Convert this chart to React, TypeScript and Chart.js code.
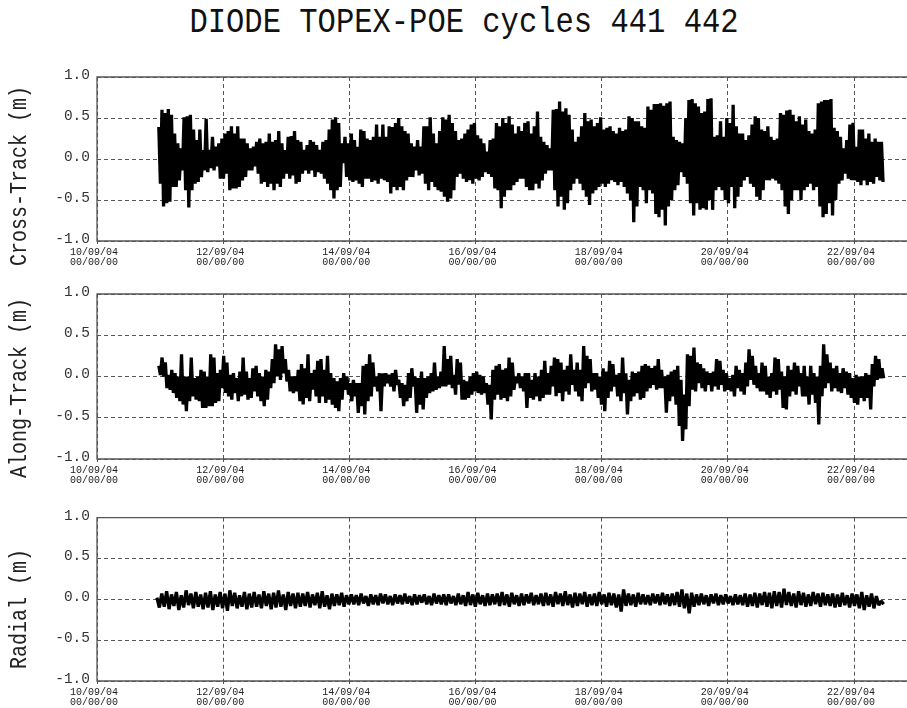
import React, { useEffect, useRef } from 'react';
import { Chart, registerables } from 'chart.js';

Chart.register(...registerables);

const TITLE = 'DIODE TOPEX-POE cycles 441 442';
const PANEL_TITLES = ['Cross-Track (m)', 'Along-Track (m)', 'Radial (m)'];
const DATE_LABELS = ['10/09/04', '12/09/04', '14/09/04', '16/09/04', '18/09/04', '20/09/04', '22/09/04'];
const TIME_LABEL = '00/00/00';

// x axis in days of September 2004
const X_MIN = 10;
const X_MAX = 22.84;
const X_STEP = 2;
const Y_MIN = -1;
const Y_MAX = 1;
const Y_STEP = 0.5;

// sample windows (day of September 2004)
const CROSS_WINDOW = [10.98, 22.46];
const ALONG_WINDOW = [10.98, 22.47];
const RADIAL_WINDOW = [10.95, 22.47];

// alternating extremes (m)
const CROSS_TRACK = [
  0.39, -0.30, 0.60, -0.58, 0.56, -0.54, 0.61, -0.52, 0.54, -0.34, 0.31, -0.34, 0.19, -0.26, 0.13, -0.14, 0.51, -0.38, 0.52, -0.59,
  0.54, -0.38, 0.36, -0.30, 0.23, -0.28, 0.36, -0.22, 0.11, -0.14, 0.49, -0.16, 0.11, -0.11, 0.27, -0.14, 0.15, -0.09, 0.19, -0.24,
  0.25, -0.24, 0.31, -0.18, 0.34, -0.38, 0.40, -0.36, 0.31, -0.36, 0.40, -0.34, 0.25, -0.26, 0.25, -0.22, 0.19, -0.14, 0.13, -0.14,
  0.15, -0.09, 0.21, -0.18, 0.25, -0.30, 0.19, -0.28, 0.21, -0.34, 0.31, -0.30, 0.21, -0.38, 0.23, -0.30, 0.34, -0.34, 0.19, -0.24,
  0.11, -0.18, 0.27, -0.24, 0.28, -0.20, 0.34, -0.30, 0.23, -0.28, 0.21, -0.18, 0.11, -0.14, 0.17, -0.18, 0.23, -0.14, 0.21, -0.22,
  0.17, -0.16, 0.11, -0.18, 0.21, -0.24, 0.23, -0.30, 0.36, -0.38, 0.48, -0.48, 0.51, -0.38, 0.44, -0.34, 0.19, -0.05, 0.27, -0.22,
  0.19, -0.26, 0.31, -0.28, 0.23, -0.26, 0.15, -0.30, 0.36, -0.34, 0.34, -0.24, 0.25, -0.24, 0.23, -0.28, 0.27, -0.26, 0.42, -0.30,
  0.27, -0.24, 0.42, -0.26, 0.27, -0.28, 0.40, -0.42,
  0.39, -0.34, 0.44, -0.38, 0.50, -0.34, 0.40, -0.38, 0.34, -0.26, 0.31, -0.22, 0.19, -0.22, 0.15, -0.14, 0.23, -0.20, 0.15, -0.18,
  0.40, -0.30, 0.40, -0.38, 0.51, -0.28, 0.31, -0.34, 0.19, -0.38, 0.34, -0.40, 0.51, -0.46, 0.48, -0.52, 0.54, -0.48, 0.44, -0.38,
  0.34, -0.22, 0.23, -0.18, 0.25, -0.24, 0.31, -0.28, 0.36, -0.26, 0.42, -0.30, 0.44, -0.24, 0.29, -0.26, 0.25, -0.22, 0.19, -0.16,
  0.09, -0.18, 0.23, -0.22, 0.25, -0.36, 0.44, -0.38, 0.40, -0.60, 0.50, -0.46, 0.44, -0.38, 0.52, -0.38, 0.42, -0.32, 0.31, -0.28,
  0.40, -0.24, 0.34, -0.24, 0.44, -0.34, 0.46, -0.38, 0.31, -0.38, 0.40, -0.30, 0.58, -0.36, 0.27, -0.26, 0.21, -0.18, 0.17, -0.14,
  0.13, -0.14, 0.60, -0.38, 0.61, -0.58, 0.70, -0.46, 0.58, -0.62, 0.62, -0.54, 0.54, -0.38, 0.36, -0.30, 0.21, -0.24, 0.27, -0.30,
  0.40, -0.38, 0.56, -0.46, 0.46, -0.56, 0.48, -0.42, 0.40, -0.38, 0.44, -0.34, 0.51, -0.30, 0.36, -0.34, 0.38, -0.30, 0.40, -0.26,
  0.34, -0.28, 0.31, -0.32, 0.38, -0.28, 0.34, -0.34, 0.36, -0.42, 0.52, -0.50,
  0.50, -0.77, 0.46, -0.58, 0.46, -0.34, 0.40, -0.38, 0.38, -0.54, 0.64, -0.38, 0.60, -0.42, 0.67, -0.67, 0.67, -0.71, 0.68, -0.62,
  0.65, -0.81, 0.68, -0.58, 0.70, -0.50, 0.27, -0.38, 0.23, -0.32, 0.21, -0.16, 0.19, -0.22, 0.50, -0.30, 0.72, -0.54, 0.73, -0.69,
  0.68, -0.54, 0.64, -0.62, 0.56, -0.60, 0.58, -0.62, 0.73, -0.50, 0.74, -0.62, 0.27, -0.38, 0.29, -0.34, 0.46, -0.38, 0.27, -0.50,
  0.50, -0.54, 0.44, -0.34, 0.66, -0.60, 0.40, -0.46, 0.31, -0.34, 0.31, -0.26, 0.23, -0.22, 0.29, -0.30, 0.42, -0.34, 0.52, -0.46,
  0.50, -0.50, 0.36, -0.38, 0.34, -0.26, 0.40, -0.26, 0.27, -0.24, 0.23, -0.26, 0.25, -0.30, 0.56, -0.38, 0.54, -0.58, 0.59, -0.67,
  0.60, -0.50, 0.54, -0.38, 0.46, -0.38, 0.52, -0.50, 0.42, -0.38, 0.48, -0.34, 0.34, -0.30, 0.31, -0.38, 0.36, -0.34, 0.68, -0.58,
  0.70, -0.71, 0.72, -0.67, 0.72, -0.54, 0.73, -0.69, 0.38, -0.50, 0.34, -0.30, 0.27, -0.26, 0.13, -0.18, 0.23, -0.24, 0.42, -0.26,
  0.44, -0.26, 0.15, -0.28, 0.36, -0.32, 0.36, -0.26, 0.25, -0.32, 0.31, -0.28, 0.21, -0.30, 0.25, -0.22, 0.21, -0.26, 0.21, -0.28,
];

const ALONG_TRACK = [
  0.13, 0.02, 0.23, 0.00, 0.17, -0.14, 0.02, -0.16, 0.08, -0.20, 0.04, -0.26, 0.00, -0.30, 0.27, -0.34, 0.00, -0.42, 0.00, -0.30,
  0.23, -0.24, -0.02, -0.28, 0.00, -0.30, 0.08, -0.38, 0.06, -0.38, 0.00, -0.36, 0.27, -0.36, 0.23, -0.32, 0.04, -0.30, 0.08, -0.14,
  0.25, -0.20, 0.17, -0.24, 0.02, -0.28, 0.04, -0.20, -0.02, -0.30, 0.06, -0.24, 0.23, -0.22, 0.06, -0.28, -0.02, -0.26, 0.10, -0.18,
  0.13, -0.24, 0.04, -0.30, 0.00, -0.36, 0.08, -0.28, 0.06, -0.14, 0.21, -0.08, 0.39, 0.00, 0.33, -0.04, 0.37, 0.04, 0.21, -0.06,
  0.08, -0.18, 0.00, -0.20, 0.00, -0.18, 0.08, -0.30, 0.15, -0.34, 0.10, -0.26, 0.27, -0.30, 0.04, -0.16, 0.08, -0.24, 0.19, -0.32,
  0.21, -0.24, 0.08, -0.32, 0.25, -0.28, 0.04, -0.34, -0.02, -0.38, -0.06, -0.42, -0.02, -0.28, 0.04, -0.16, 0.00, -0.22, -0.08, -0.30,
  -0.04, -0.24, -0.08, -0.44, -0.08, -0.36, 0.13, -0.46, 0.15, -0.30, 0.27, -0.24, 0.17, -0.12, 0.00, -0.18, 0.04, -0.42, 0.04, -0.12,
  0.04, -0.08, 0.02, -0.12, 0.04, -0.18,
  0.08, -0.10, -0.04, -0.26, -0.08, -0.36, -0.10, -0.30, 0.04, -0.26, 0.10, -0.12, 0.00, -0.44, -0.02, -0.34, 0.06, -0.40, -0.02, -0.26,
  0.00, -0.20, 0.04, -0.18, 0.17, -0.16, 0.00, -0.14, 0.06, -0.12, 0.37, -0.12, 0.21, -0.10, 0.25, -0.14, 0.02, -0.22, 0.21, -0.10,
  0.17, -0.28, -0.04, -0.28, -0.06, -0.26, 0.00, -0.22, 0.04, -0.18, 0.06, -0.20, 0.02, -0.22, 0.00, -0.20, -0.08, -0.34, -0.10, -0.52,
  0.08, -0.28, 0.13, -0.22, 0.15, -0.28, 0.08, -0.26, 0.10, -0.30, 0.23, -0.24, 0.17, -0.16, 0.00, -0.08, 0.04, -0.14, 0.00, -0.18,
  0.04, -0.38, 0.04, -0.26, -0.04, -0.28, 0.04, -0.24, 0.00, -0.30, 0.08, -0.26, 0.19, -0.22, 0.04, -0.22, 0.13, -0.12, 0.23, -0.24,
  0.21, -0.20, 0.17, -0.30, 0.08, -0.18, 0.13, -0.22, 0.27, -0.10, 0.08, -0.18, 0.17, -0.24, 0.08, -0.30, 0.37, -0.14, 0.25, -0.08,
  0.21, -0.18, 0.04, -0.16, 0.04, -0.26, 0.00, -0.34, 0.10, -0.42, 0.06, -0.26, 0.19, -0.18, 0.15, -0.12, 0.02, -0.24, 0.04, -0.30,
  0.23, -0.20, 0.04, -0.46, -0.04, -0.30, 0.06, -0.24, 0.04, -0.20,
  0.06, -0.28, 0.13, -0.26, 0.15, -0.18, 0.13, -0.14, 0.10, -0.10, 0.13, -0.16, 0.21, -0.14, 0.08, -0.14, 0.00, -0.44, 0.02, -0.30,
  0.06, -0.24, 0.08, -0.34, 0.13, -0.60, -0.04, -0.78, -0.22, -0.64, 0.27, -0.36, 0.25, -0.16, 0.35, -0.18, 0.17, -0.08, 0.15, -0.14,
  0.10, -0.18, 0.06, -0.10, 0.04, -0.18, 0.06, -0.12, 0.21, -0.16, 0.19, -0.10, 0.08, -0.18, 0.04, -0.16, -0.02, -0.18, 0.02, -0.24,
  0.13, -0.14, 0.08, -0.18, 0.04, -0.22, 0.17, -0.12, 0.33, -0.04, 0.25, -0.10, 0.13, -0.14, 0.04, -0.18, 0.17, -0.18, 0.13, -0.22,
  0.00, -0.26, 0.04, -0.18, 0.23, -0.22, 0.21, -0.16, 0.06, -0.38, 0.00, -0.40, 0.13, -0.24, 0.08, -0.18, 0.17, -0.22, 0.13, -0.12,
  0.04, -0.24, 0.13, -0.24, 0.00, -0.34, 0.13, -0.22, 0.04, -0.32, 0.00, -0.58, 0.13, -0.24, 0.39, -0.14, 0.27, -0.08, 0.17, -0.18,
  0.10, -0.14, 0.13, -0.18, 0.04, -0.20, 0.10, -0.14, 0.06, -0.22, 0.04, -0.26, -0.02, -0.32, 0.02, -0.34, 0.00, -0.26, 0.00, -0.30,
  0.04, -0.26, 0.02, -0.40, 0.15, -0.12, 0.25, -0.04, 0.21, -0.02, 0.10, -0.02,
];

const RADIAL = [
  0.02, -0.10, 0.07, -0.09, 0.10, -0.12, 0.06, -0.08, 0.09, -0.13, 0.05, -0.10, 0.11, -0.07, 0.07, -0.11, 0.09, -0.09, 0.06, -0.12,
  0.08, -0.10, 0.10, -0.13, 0.06, -0.09, 0.09, -0.11, 0.07, -0.14, 0.11, -0.08, 0.08, -0.11, 0.05, -0.09, 0.09, -0.12, 0.07, -0.10,
  0.09, -0.09, 0.06, -0.11, 0.10, -0.08, 0.07, -0.12, 0.08, -0.10, 0.11, -0.09, 0.06, -0.13, 0.09, -0.08, 0.07, -0.11, 0.08, -0.09,
  0.07, -0.08, 0.09, -0.10, 0.06, -0.07, 0.08, -0.11, 0.10, -0.09, 0.05, -0.12, 0.07, -0.08, 0.06, -0.07, 0.08, -0.09, 0.05, -0.06,
  0.06, -0.06, 0.05, -0.07, 0.07, -0.05, 0.04, -0.08, 0.06, -0.06, 0.05, -0.07, 0.07, -0.05, 0.06, -0.06, 0.04, -0.07, 0.06, -0.05,
  0.05, -0.06, 0.07, -0.05, 0.04, -0.07, 0.06, -0.06, 0.05, -0.04, 0.06, -0.06, 0.04, -0.07, 0.07, -0.05, 0.05, -0.06, 0.06, -0.07,
  0.06, -0.05, 0.04, -0.07, 0.07, -0.06, 0.05, -0.08, 0.09, -0.07, 0.06, -0.09, 0.08, -0.06, 0.05, -0.08, 0.07, -0.07, 0.06, -0.06,
  0.07, -0.08, 0.09, -0.07, 0.06, -0.09, 0.08, -0.06, 0.05, -0.08, 0.07, -0.07, 0.06, -0.05, 0.08, -0.07, 0.05, -0.06, 0.07, -0.08,
  0.08, -0.07, 0.06, -0.09, 0.09, -0.06, 0.07, -0.08, 0.10, -0.07, 0.06, -0.10, 0.08, -0.08, 0.07, -0.06, 0.09, -0.09, 0.06, -0.07,
  0.07, -0.08, 0.09, -0.06, 0.06, -0.09, 0.08, -0.07, 0.07, -0.10, 0.06, -0.15, 0.12, -0.08, 0.07, -0.07, 0.06, -0.09, 0.08, -0.06,
  0.06, -0.06, 0.05, -0.07, 0.07, -0.05, 0.06, -0.07, 0.08, -0.06, 0.06, -0.08, 0.07, -0.07, 0.09, -0.09, 0.12, -0.11, 0.07, -0.17,
  0.08, -0.09, 0.06, -0.07, 0.07, -0.06, 0.05, -0.08, 0.06, -0.05, 0.07, -0.07, 0.05, -0.06, 0.06, -0.05, 0.04, -0.07, 0.06, -0.06,
  0.05, -0.07, 0.07, -0.09, 0.06, -0.08, 0.08, -0.10, 0.07, -0.07, 0.09, -0.09, 0.08, -0.11, 0.10, -0.08, 0.09, -0.10, 0.13, -0.07,
  0.09, -0.08, 0.07, -0.10, 0.10, -0.07, 0.08, -0.09, 0.06, -0.08, 0.09, -0.06, 0.07, -0.09, 0.08, -0.07, 0.06, -0.08, 0.07, -0.10,
  0.06, -0.09, 0.08, -0.07, 0.05, -0.10, 0.07, -0.08, 0.06, -0.11, 0.09, -0.13, 0.05, -0.09, 0.07, -0.11, 0.04, -0.07, -0.02, -0.06,
];

const MONO = '"Liberation Mono", "DejaVu Sans Mono", monospace';

function buildPoints(values: number[], win: number[]) {
  const n = values.length;
  const step = (win[1] - win[0]) / (n - 1);
  return values.map((y, i) => ({ x: win[0] + i * step, y }));
}

const framePlugin = {
  id: 'frame',
  afterDraw(chart: any) {
    const { ctx, chartArea: a } = chart;
    ctx.save();
    ctx.setLineDash([]);
    ctx.strokeStyle = '#555';
    ctx.lineWidth = 1.3;
    ctx.beginPath();
    ctx.moveTo(a.right, a.top);
    ctx.lineTo(a.left, a.top);
    ctx.lineTo(a.left, a.bottom);
    ctx.lineTo(a.right, a.bottom);
    ctx.stroke();
    ctx.restore();
  },
};

type PanelProps = { top: number; height: number; padTop: number; values: number[]; win: number[] };

function Panel({ top, height, padTop, values, win }: PanelProps) {
  const ref = useRef<HTMLCanvasElement>(null);
  useEffect(() => {
    const chart = new Chart(ref.current as HTMLCanvasElement, {
      type: 'line',
      data: {
        datasets: [
          {
            data: buildPoints(values, win),
            borderColor: '#000',
            borderWidth: 3.3,
            pointRadius: 0,
            borderJoinStyle: 'bevel',
            tension: 0,
            fill: false,
          },
        ],
      },
      options: {
        animation: false,
        responsive: false,
        devicePixelRatio: 1,
        events: [],
        layout: { padding: { top: padTop, left: 0, right: 0, bottom: 0 } },
        plugins: { legend: { display: false }, tooltip: { enabled: false }, title: { display: false } },
        scales: {
          x: {
            type: 'linear',
            min: X_MIN,
            max: X_MAX,
            afterFit: (s: any) => {
              s.height = 27;
            },
            border: { display: false, dash: [4, 3] },
            grid: { color: '#555', lineWidth: 1, drawTicks: true, tickLength: 3, tickColor: '#555', tickBorderDash: [] },
            ticks: {
              stepSize: X_STEP,
              includeBounds: false,
              autoSkip: false,
              maxRotation: 0,
              minRotation: 0,
              padding: 3,
              labelOffset: -3,
              color: '#222',
              font: { family: MONO, size: 10, lineHeight: 1 },
              callback: (v: any) => [DATE_LABELS[Math.round((Number(v) - X_MIN) / X_STEP)], TIME_LABEL],
            },
          },
          y: {
            min: Y_MIN,
            max: Y_MAX,
            afterFit: (s: any) => {
              s.width = 97;
            },
            border: { display: false, dash: [4, 3] },
            grid: { color: '#555', lineWidth: 1, drawTicks: false },
            ticks: {
              stepSize: Y_STEP,
              padding: 7,
              labelOffset: -2,
              color: '#333',
              font: { family: MONO, size: 14.5 },
              callback: (v: any) => Number(v).toFixed(1),
            },
          },
        },
      } as any,
      plugins: [framePlugin],
    });
    return () => chart.destroy();
  }, []);
  return (
    <canvas
      ref={ref}
      width={907}
      height={height}
      style={{ position: 'absolute', left: 0, top, width: 907, height, display: 'block' }}
    />
  );
}

function AxisTitle({ text, cy }: { text: string; cy: number }) {
  return (
    <div
      style={{
        position: 'absolute',
        left: 20,
        top: cy,
        transform: 'translate(-50%, -50%) rotate(-90deg) scaleY(1.2)',
        fontFamily: MONO,
        fontSize: 20,
        lineHeight: '20px',
        whiteSpace: 'nowrap',
        color: '#222',
      }}
    >
      {text}
    </div>
  );
}

export default function App() {
  return (
    <div
      style={{
        position: 'fixed',
        left: 0,
        top: 0,
        width: 907,
        height: 708,
        background: '#fff',
        overflow: 'hidden',
      }}
    >
      <div
        style={{
          position: 'absolute',
          left: 464,
          top: 23,
          transform: 'translate(-50%, -50%) scaleY(1.15)',
          fontFamily: MONO,
          fontSize: 30.5,
          lineHeight: '30px',
          whiteSpace: 'nowrap',
          color: '#111',
        }}
      >
        {TITLE}
      </div>
      <Panel top={60} height={208} padTop={17} values={CROSS_TRACK} win={CROSS_WINDOW} />
      <Panel top={277} height={209} padTop={17} values={ALONG_TRACK} win={ALONG_WINDOW} />
      <Panel top={502} height={206} padTop={12} values={RADIAL} win={RADIAL_WINDOW} />
      <AxisTitle text={PANEL_TITLES[0]} cy={176} />
      <AxisTitle text={PANEL_TITLES[1]} cy={388} />
      <AxisTitle text={PANEL_TITLES[2]} cy={609} />
    </div>
  );
}
